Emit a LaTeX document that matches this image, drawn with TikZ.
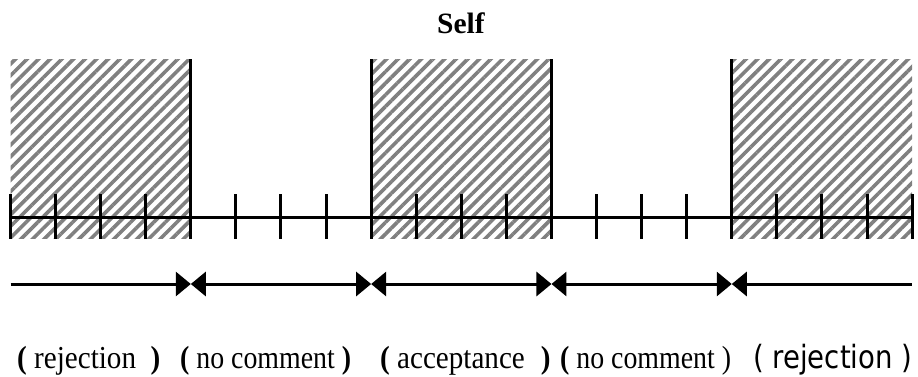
\documentclass[tikz,border=0pt]{standalone}
\usepackage{fontspec}
\setmainfont{Liberation Serif}
\newfontfamily\labelsans{DejaVu Sans}
\usetikzlibrary{arrows.meta,patterns.meta}

\newcommand{\bpar}[1]{\textbf{#1}}

\begin{document}
\begin{tikzpicture}[
  x=1pt, y=-1pt,
  every node/.style={inner sep=0pt, anchor=base west},
  hatch/.style={pattern={Lines[angle=45,distance=8.2pt,line width=3.6pt]}, pattern color=black!50},
  tick/.style={line width=3pt},
  arr/.style={line width=3pt, >={Triangle[length=15pt,width=24pt]}},
  lbl/.style={font=\fontsize{32}{36}\selectfont}
]
  \useasboundingbox (0,0) rectangle (918,376);
  \clip (0,0) rectangle (918,376);

  \node[font=\bfseries\fontsize{29.5}{32}\selectfont, anchor=base] (title) at (461,33) {Self};

  \foreach \i in {0,...,20}
    \coordinate (m\i) at ({10.5+45.08*\i},217);

  \foreach \a/\b in {0/4,8/12,16/20}
    \fill[hatch] ([yshift=158pt]m\a) rectangle ([yshift=-21pt]m\b);

  \draw[tick] (m0) -- (m20);
  \foreach \i in {0,...,20}
    \draw[tick] ([yshift=23pt]m\i) -- ([yshift=-22pt]m\i);
  \foreach \i in {4,8,12,16}
    \draw[tick] ([yshift=158pt]m\i) -- ([yshift=-22pt]m\i);

  \foreach \i/\j in {0/0,1/4,2/8,3/12,4/16,5/20}
    \coordinate (a\i) at ([yshift=-67pt]m\j);

  \draw[arr,->] (a0) -- (a1);
  \foreach \i/\j in {1/2,2/3,3/4}
    \draw[arr,<->] (a\i) -- (a\j);
  \draw[arr,<-] (a4) -- (a5);

  \node[lbl] (rej1) at (17,368) {\scalebox{.91}[1]{\bpar( rejection\hspace{.5em}\bpar)}};
  \node[lbl] (nocom1) at (180,368) {\scalebox{.87}[1]{\bpar( no comment \bpar)}};
  \node[lbl] (acc) at (380,368) {\scalebox{.91}[1]{\bpar( acceptance\hspace{.55em}\bpar)}};
  \node[lbl] (nocom2) at (560,368) {\scalebox{.87}[1]{\bpar( no comment )}};
  \node[lbl] (rej2) at (753,368) {\scalebox{.86}[1]{\labelsans ( rejection )}};
\end{tikzpicture}
\end{document}
